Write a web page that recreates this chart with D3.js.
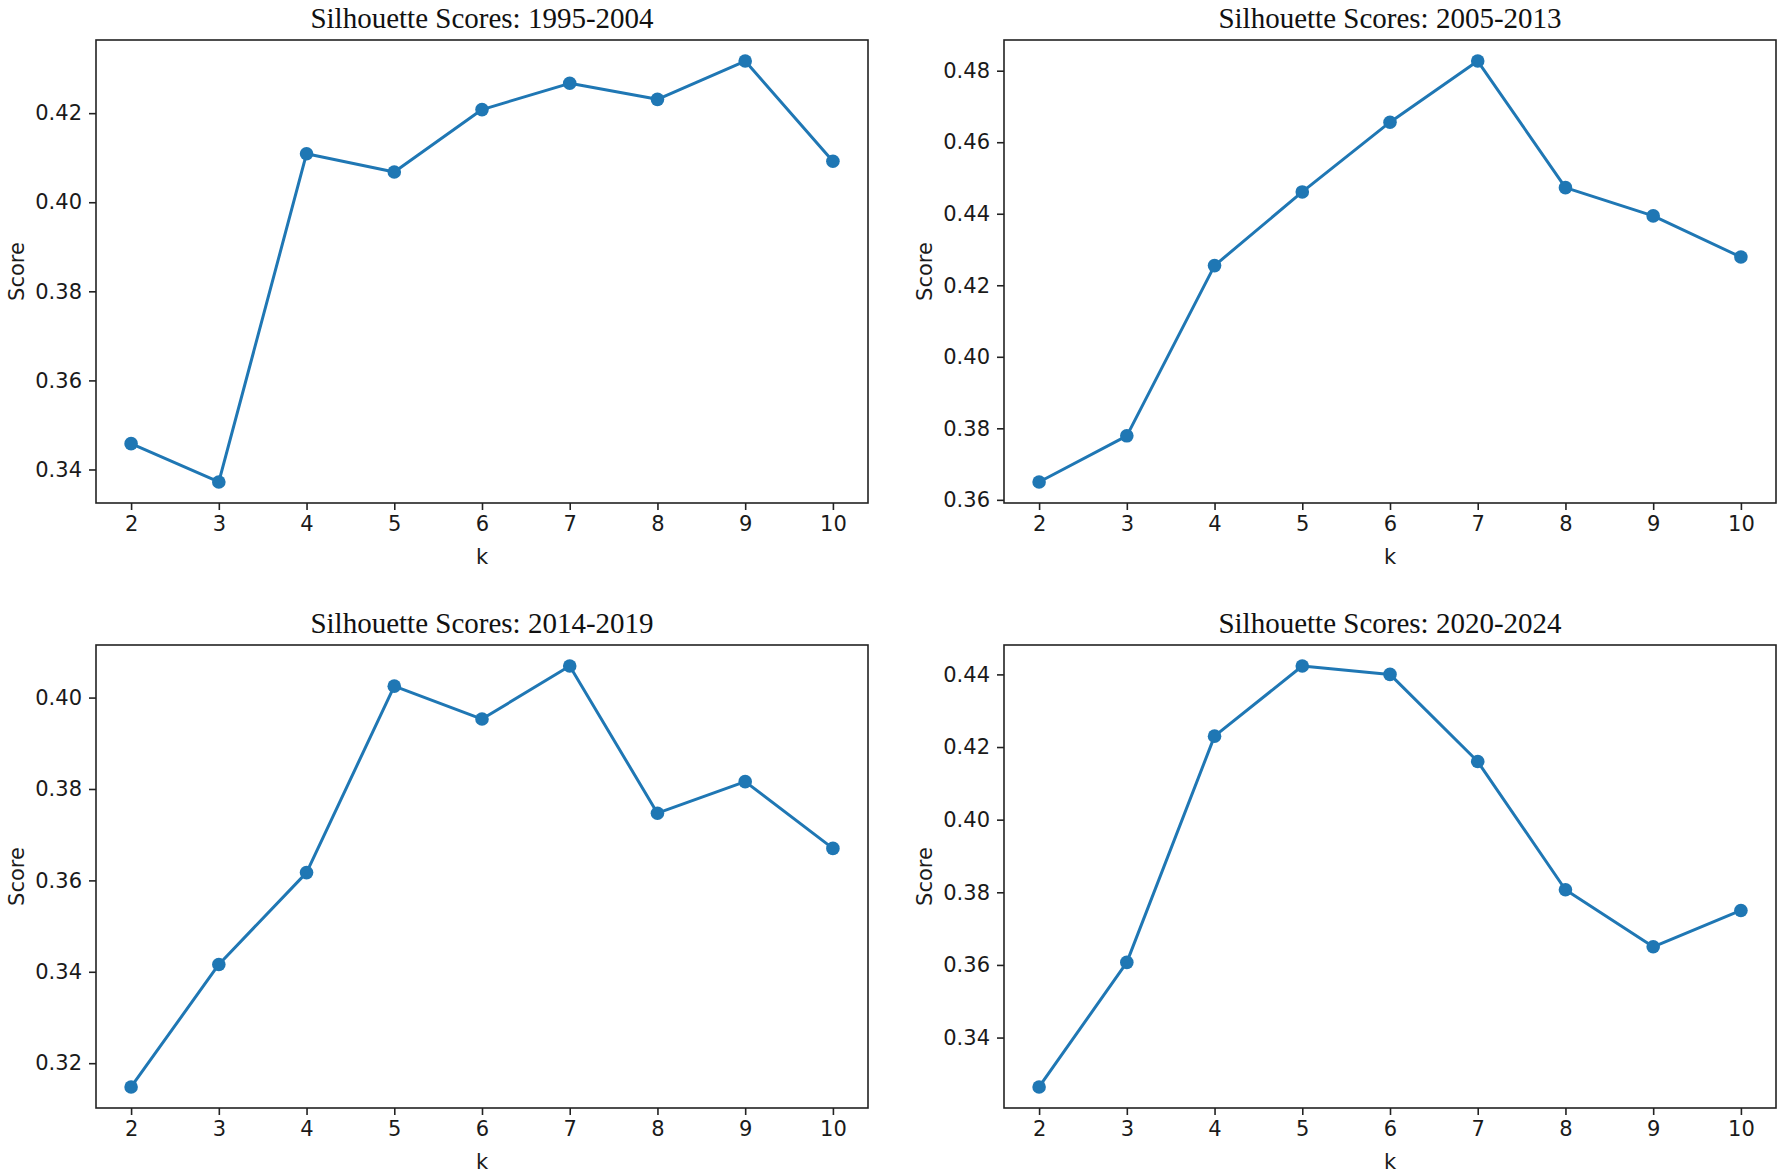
<!DOCTYPE html>
<html>
<head>
<meta charset="utf-8">
<script src="https://cdn.jsdelivr.net/npm/d3@7"></script>
<style>
  body { margin: 0; background: #fff; }
  .tick text { font-family: "DejaVu Sans", sans-serif; font-size: 21px; fill: #1a1a1a; }
  .axis-label { font-family: "DejaVu Sans", sans-serif; font-size: 21px; fill: #1a1a1a; }
  .panel-title { font-family: "Liberation Serif", "Times New Roman", serif; font-size: 29px; fill: #111; }
</style>
</head>
<body>
<div id="chart"></div>
<script>
const ks = [2, 3, 4, 5, 6, 7, 8, 9, 10];

const titles = [
  "Silhouette Scores: 1995-2004",
  "Silhouette Scores: 2005-2013",
  "Silhouette Scores: 2014-2019",
  "Silhouette Scores: 2020-2024"
];

const scores1995 = [0.3458, 0.3372, 0.4109, 0.4068, 0.4208, 0.4267, 0.4231, 0.4317, 0.4092];
const scores2005 = [0.3650, 0.3779, 0.4255, 0.4461, 0.4656, 0.4827, 0.4473, 0.4394, 0.4279];
const scores2014 = [0.3148, 0.3416, 0.3617, 0.4025, 0.3953, 0.4069, 0.3747, 0.3816, 0.3670];
const scores2020 = [0.3264, 0.3607, 0.4230, 0.4423, 0.4400, 0.4160, 0.3807, 0.3650, 0.3750];

const yTicks1995 = [0.34, 0.36, 0.38, 0.40, 0.42];
const yTicks2005 = [0.36, 0.38, 0.40, 0.42, 0.44, 0.46, 0.48];
const yTicks2014 = [0.32, 0.34, 0.36, 0.38, 0.40];
const yTicks2020 = [0.34, 0.36, 0.38, 0.40, 0.42, 0.44];

const panels = [
  { title: titles[0], values: scores1995, yTicks: yTicks1995, col: 0, row: 0 },
  { title: titles[1], values: scores2005, yTicks: yTicks2005, col: 1, row: 0 },
  { title: titles[2], values: scores2014, yTicks: yTicks2014, col: 0, row: 1 },
  { title: titles[3], values: scores2020, yTicks: yTicks2020, col: 1, row: 1 }
];

const W = 1784, H = 1176;
const colX = [96, 1004], rowY = [40, 645];
const pw = 772, ph = 463;
const blue = "#1f77b4";

const svg = d3.select("#chart").append("svg")
  .attr("width", W)
  .attr("height", H);

// matplotlib style padding: 5% of data range on each side
function pad(ext) {
  const m = (ext[1] - ext[0]) * 0.05;
  return [ext[0] - m, ext[1] + m];
}

panels.forEach(function (p) {
  const g = svg.append("g")
    .attr("transform", "translate(" + colX[p.col] + "," + rowY[p.row] + ")");

  const x = d3.scaleLinear().domain(pad(d3.extent(ks))).range([0, pw]);
  const y = d3.scaleLinear().domain(pad(d3.extent(p.values))).range([ph, 0]);

  const data = ks.map(function (k, i) { return { k: k, v: p.values[i] }; });

  g.append("g")
    .attr("class", "x-axis")
    .attr("transform", "translate(0," + ph + ")")
    .call(d3.axisBottom(x).tickValues(ks).tickFormat(d3.format("d")).tickSize(7).tickPadding(6));

  g.append("g")
    .attr("class", "y-axis")
    .call(d3.axisLeft(y).tickValues(p.yTicks).tickFormat(d3.format(".2f")).tickSize(7).tickPadding(7));

  g.selectAll(".domain").remove();
  g.selectAll(".tick line").attr("stroke", "#222").attr("stroke-width", 1.6);

  g.append("rect")
    .attr("width", pw)
    .attr("height", ph)
    .attr("fill", "none")
    .attr("stroke", "#222")
    .attr("stroke-width", 1.6);

  const line = d3.line()
    .x(function (d) { return x(d.k); })
    .y(function (d) { return y(d.v); });

  g.append("path")
    .datum(data)
    .attr("fill", "none")
    .attr("stroke", blue)
    .attr("stroke-width", 3)
    .attr("stroke-linejoin", "round")
    .attr("d", line);

  g.selectAll(".dot")
    .data(data)
    .enter().append("circle")
    .attr("class", "dot")
    .attr("cx", function (d) { return x(d.k); })
    .attr("cy", function (d) { return y(d.v); })
    .attr("r", 6.8)
    .attr("fill", blue);

  g.append("text")
    .attr("class", "panel-title")
    .attr("x", pw / 2)
    .attr("y", -12)
    .attr("text-anchor", "middle")
    .text(p.title);

  g.append("text")
    .attr("class", "axis-label")
    .attr("x", pw / 2)
    .attr("y", ph + 61)
    .attr("text-anchor", "middle")
    .text("k");

  g.append("text")
    .attr("class", "axis-label")
    .attr("transform", "translate(-72.5," + ph / 2 + ") rotate(-90)")
    .attr("text-anchor", "middle")
    .text("Score");
});
</script>
</body>
</html>
